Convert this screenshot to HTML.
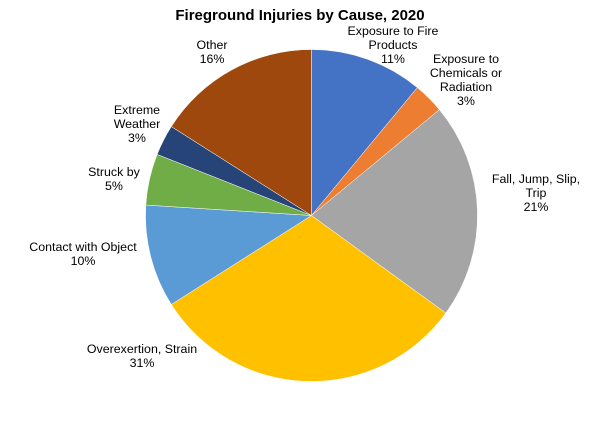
<!DOCTYPE html>
<html><head><meta charset="utf-8"><style>
body{margin:0;background:#fff;}
svg text{font-family:"Liberation Sans",Arial,sans-serif;fill:#000;}
</style></head><body>
<svg width="600" height="420" viewBox="0 0 600 420">
<text x="300" y="20" text-anchor="middle" font-size="15" font-weight="bold">Fireground Injuries by Cause, 2020</text>
<g id="slices"></g>
<g id="labels" font-size="12.4"></g>
</svg>
<script>
const categories=["Exposure to Fire Products","Exposure to Chemicals or Radiation","Fall, Jump, Slip, Trip","Overexertion, Strain","Contact with Object","Struck by","Extreme Weather","Other"];
const values=[11,3,21,31,10,5,3,16];
const labelLines=[["Exposure to Fire","Products","11%"],["Exposure to","Chemicals or","Radiation","3%"],["Fall, Jump, Slip,","Trip","21%"],["Overexertion, Strain","31%"],["Contact with Object","10%"],["Struck by","5%"],["Extreme","Weather","3%"],["Other","16%"]];
const colors=["#4472C4","#ED7D31","#A5A5A5","#FFC000","#5B9BD5","#70AD47","#264478","#9E480E"];
const labelPos=[[393,35],[466,63],[536,183],[142,353],[83,251],[114,176],[137,114],[212,49]];
const cx=311.5,cy=215.5,r=166;
const ns="http://www.w3.org/2000/svg";
const total=values.reduce((a,b)=>a+b,0);
let a0=0;
const sg=document.getElementById('slices'),lg=document.getElementById('labels');
values.forEach((v,i)=>{
  const a1=a0+v/total*2*Math.PI;
  const p=(a)=>[cx+r*Math.sin(a),cy-r*Math.cos(a)];
  const [x0,y0]=p(a0),[x1,y1]=p(a1);
  const path=document.createElementNS(ns,'path');
  path.setAttribute('d',`M${cx},${cy}L${x0},${y0}A${r},${r} 0 ${a1-a0>Math.PI?1:0} 1 ${x1},${y1}Z`);
  path.setAttribute('fill',colors[i]);
  path.setAttribute('stroke','#fff');
  path.setAttribute('stroke-width','0.5');
  
  
  sg.appendChild(path);
  const t=document.createElementNS(ns,'text');
  t.setAttribute('text-anchor','middle');
  
  
  labelLines[i].forEach((s,j)=>{
    const ts=document.createElementNS(ns,'tspan');
    ts.setAttribute('x',labelPos[i][0]);
    ts.setAttribute('y',labelPos[i][1]+j*14);
    ts.textContent=s;
    t.appendChild(ts);
  });
  lg.appendChild(t);
  a0=a1;
});
</script>
</body></html>
